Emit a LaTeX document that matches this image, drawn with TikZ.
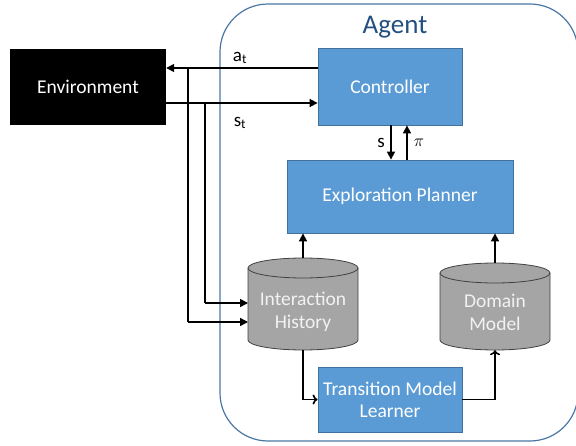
\documentclass[tikz,border=0pt]{standalone}
\usepackage{fontspec}
\setmainfont{Carlito}
\usetikzlibrary{arrows.meta}
\definecolor{boxblue}{HTML}{5B9BD5}
\definecolor{boxedge}{HTML}{41719C}
\definecolor{cylgray}{HTML}{A5A5A5}
\definecolor{cyledge}{HTML}{404040}
\definecolor{agentedge}{HTML}{4A76A4}
\definecolor{agenttext}{HTML}{23507F}
\definecolor{cyltext}{HTML}{F2F2F2}
\begin{document}
\begin{tikzpicture}[x=1pt,y=1pt,
  bluebox/.style={draw=boxedge,line width=0.8pt,fill=boxblue,text=white,font=\fontsize{19.5}{22}\selectfont,align=center,inner sep=0pt},
  envbox/.style={fill=black,text=white,font=\fontsize{19.5}{22}\selectfont,inner sep=0pt},
  cylnode/.style={inner sep=0pt,text=cyltext,font=\fontsize{19.5}{23}\selectfont,align=center},
  cylshape/.style={draw=cyledge,line width=0.8pt,fill=cylgray},
  arr/.style={line width=1.6pt,-{Triangle[length=8pt,width=8pt]}},
  openarr/.style={line width=1.6pt,-{To[length=5pt,width=10pt,line width=1.6pt]}},
  lbl/.style={font=\fontsize{19}{21}\selectfont,inner sep=0pt}]
\useasboundingbox (0,0) rectangle (576,445);
\begin{scope}
\clip (0,0) rectangle (576,445);
\draw[agentedge,line width=1.2pt,rounded corners=48pt] (220,441) rectangle (578,4);
\end{scope}
\node[text=agenttext,font=\fontsize{27}{30}\selectfont,inner sep=0pt] (agent) at (395,418) {Agent};

\node[envbox,minimum width=156pt,minimum height=76pt] (env) at (88,358) {Environment};
\node[bluebox,minimum width=144pt,minimum height=77pt] (ctrl) at (390,358.5) {Controller};
\node[bluebox,minimum width=226pt,minimum height=73pt] (plan) at (400,248.5) {Exploration Planner};
\node[bluebox,minimum width=144pt,minimum height=65pt] (learn) at (390,45.5) {Transition Model\\Learner};

% cylinders
\draw[cylshape] (248,177) -- (248,105) arc[start angle=180,end angle=360,x radius=55pt,y radius=10pt] -- (358,177) arc[start angle=0,end angle=180,x radius=55pt,y radius=10pt] -- cycle;
\draw[cyledge,line width=0.8pt] (248,177) arc[start angle=180,end angle=360,x radius=55pt,y radius=10pt];
\node[cylnode,minimum width=110pt,minimum height=92pt] (ih) at (303,141) {};
\node[cylnode] (ihtext) at (303,133) {Interaction\\History};

\draw[cylshape] (440,172) -- (440,105) arc[start angle=180,end angle=360,x radius=55pt,y radius=10pt] -- (550,172) arc[start angle=0,end angle=180,x radius=55pt,y radius=10pt] -- cycle;
\draw[cyledge,line width=0.8pt] (440,172) arc[start angle=180,end angle=360,x radius=55pt,y radius=10pt];
\node[cylnode,minimum width=110pt,minimum height=87pt] (dm) at (495,138.5) {};
\node[cylnode] (dmtext) at (495,133) {Domain\\Model};

% coordinates
\coordinate (ya) at (0,377);
\coordinate (ys) at (0,342);
\coordinate (ja) at (188,377);
\coordinate (js) at (205,342);
\coordinate (ha) at (248,123);
\coordinate (hs) at (248,142);
\coordinate (sx) at (391,0);
\coordinate (px) at (407,0);
\coordinate (dx) at (495,45.5);

% connectors
\draw[arr] (ctrl.west |- ya) -- (env.east |- ya);
\draw[arr] (env.east |- ys) -- (ctrl.west |- ys);
\draw[line width=1.6pt] (ja) -- (ja |- ha);
\draw[arr] (ja |- ha) -- (ha);
\draw[line width=1.6pt] (js) -- (js |- hs);
\draw[arr] (js |- hs) -- (hs);
\draw[arr] (sx |- ctrl.south) -- (sx |- plan.north);
\draw[arr] (px |- plan.north) -- (px |- ctrl.south);
\draw[arr] (ih.north) -- (plan.south -| ih.north);
\draw[arr] (dm.north) -- (plan.south -| dm.north);
\draw[openarr] (ih.south) |- (learn.west);
\draw[openarr] (learn.east) -- (dx) -- (dm.south);

% labels
\node[lbl] (at) at (240,387) {a\textsubscript{t}};
\node[lbl] (st) at (240,322) {s\textsubscript{t}};
\node[lbl] (sl) at (381,302) {s};
\node[lbl] (pl) at (419,302) {$\pi$};
\end{tikzpicture}
\end{document}
